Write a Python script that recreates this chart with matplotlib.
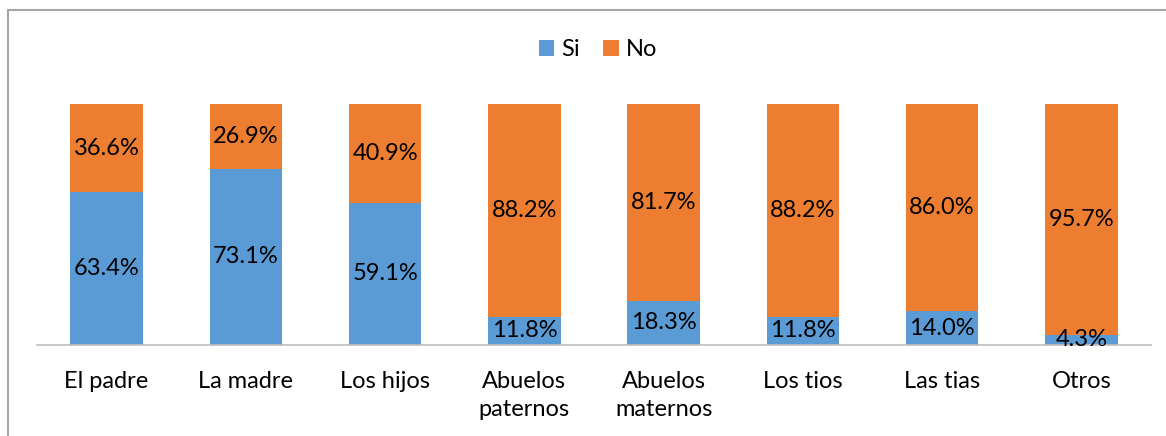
import matplotlib.pyplot as plt
from matplotlib.patches import Rectangle
import numpy as np

plt.rcParams['font.family'] = ['Lato', 'DejaVu Sans']

categories = ["El padre", "La madre", "Los hijos", "Abuelos\npaternos",
              "Abuelos\nmaternos", "Los tios", "Las tias", "Otros"]
si = [63.4, 73.1, 59.1, 11.8, 18.3, 11.8, 14.0, 4.3]
no = [36.6, 26.9, 40.9, 88.2, 81.7, 88.2, 86.0, 95.7]

blue = "#5B9BD5"
orange = "#ED7D31"

fig = plt.figure(figsize=(11.66, 4.36), dpi=100)
ax = fig.add_axes([37 / 1166, 1 - 345 / 436, 1114 / 1166, 241 / 436])

x = np.arange(len(categories))
si_frac = np.array(si) / 100
no_frac = np.array(no) / 100
b1 = ax.bar(x, si_frac, width=0.52, color=blue, label="Si")
b2 = ax.bar(x, no_frac, width=0.52, bottom=si_frac, color=orange, label="No")

for i in range(len(categories)):
    ax.text(x[i], si_frac[i] / 2, f"{si[i]:.1f}%", ha="center", va="center",
            fontsize=17, color="black")
    ax.text(x[i], si_frac[i] + no_frac[i] / 2, f"{no[i]:.1f}%", ha="center",
            va="center", fontsize=17, color="black")

ax.set_xlim(-0.5, len(categories) - 0.5)
ax.set_ylim(0, 1)
ax.set_xticks(x)
ax.set_xticklabels(categories, fontsize=17, linespacing=1.4)
ax.tick_params(axis="x", length=0, pad=19)
ax.set_yticks([])
for s in ["top", "right", "left"]:
    ax.spines[s].set_visible(False)
ax.spines["bottom"].set_color("#BFBFBF")
ax.spines["bottom"].set_linewidth(1.2)

fig.legend(handles=[b1, b2], loc="center", bbox_to_anchor=(598 / 1166, 1 - 50 / 436),
           ncol=2, frameon=False, fontsize=17, handlelength=0.65, handleheight=0.65,
           handletextpad=0.3, columnspacing=1.0)

# chart border (cropped at right and bottom)
fig.patches.append(Rectangle((8 / 1166, -0.1), 1.2, 1 - 10 / 436 + 0.1,
                             transform=fig.transFigure, fill=False,
                             edgecolor="#A6A6A6", linewidth=1.5))

fig.savefig("out.png", dpi=100)
